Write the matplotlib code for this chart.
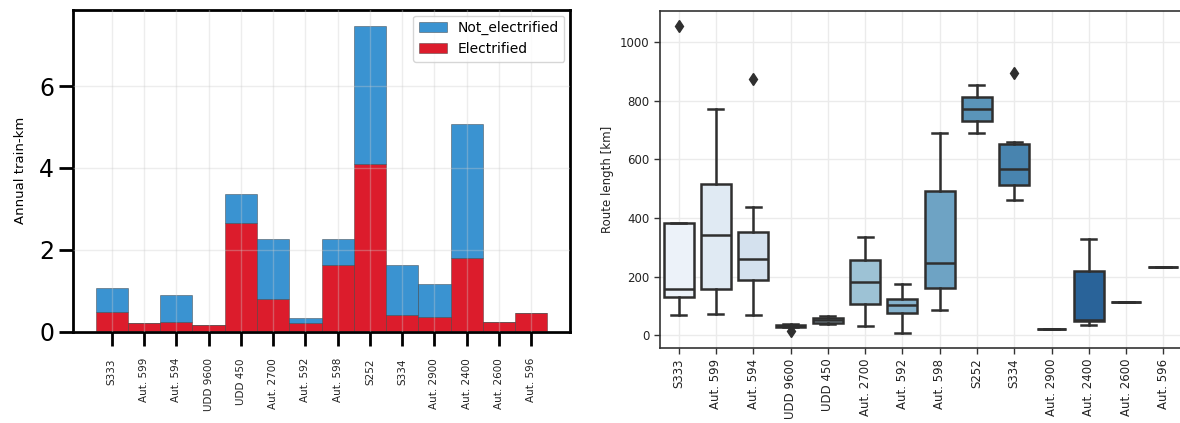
import matplotlib
matplotlib.use("Agg")
import matplotlib.pyplot as plt
import numpy as np
import seaborn as sns

routes = ['S333', 'Aut. 599', 'Aut. 594', 'UDD 9600', 'UDD 450', 'Aut. 2700', 'Aut. 592',
          'Aut. 598', 'S252', 'S334', 'Aut. 2900', 'Aut. 2400', 'Aut. 2600', 'Aut. 596']

# annual train-km per route (left chart)
electrified = [0.49, 0.22, 0.23, 0.16, 2.66, 0.80, 0.21, 1.62, 4.10, 0.41, 0.37, 1.79, 0.24, 0.46]
not_electrified = [0.57, 0.00, 0.67, 0.00, 0.71, 1.47, 0.12, 0.64, 3.38, 1.22, 0.79, 3.28, 0.00, 0.00]

# route length box statistics (right chart), km
whislo = [68, 72, 69, 28, 39, 32, 7, 85, 692, 461, 20, 34, 114, 231]
q1 = [129, 157, 188, 28, 43, 108, 76, 162, 731, 512, 20, 47, 114, 231]
med = [156, 342, 260, 32, 51, 182, 102, 247, 773, 567, 20, 53, 114, 231]
q3 = [384, 515, 351, 35, 59, 258, 123, 493, 812, 654, 20, 220, 114, 231]
whishi = [384, 773, 436, 38, 65, 334, 173, 692, 853, 658, 20, 327, 114, 231]
fliers = [[1055], [], [875], [14], [], [], [], [], [], [895], [], [], [], []]

fig = plt.figure(figsize=(11.8, 4.23), dpi=100)

# ---- left: stacked bars
ax1 = fig.add_axes([73 / 1180, 1 - 331.7 / 423, (570 - 73) / 1180, (331.7 - 10) / 423])
x = np.arange(len(routes))
ax1.bar(x, electrified, width=1.0, color='#dc1c2c', edgecolor=(0.2, 0.2, 0.2, 0.5),
        linewidth=0.6, label='Electrified')
ax1.bar(x, not_electrified, width=1.0, bottom=electrified, color='#3a93d1',
        edgecolor=(0.2, 0.2, 0.2, 0.5), linewidth=0.6, label='Not_electrified')
ax1.set_xlim(-1.2, 14.2)
ax1.set_ylim(0, 7.86)
ax1.set_yticks([0, 2, 4, 6])
ax1.set_xticks(x)
ax1.set_xticklabels(routes, rotation=90, fontsize=7.5, color='#222222')
ax1.tick_params(axis='y', labelsize=17, length=10, width=2)
ax1.tick_params(axis='x', length=10, width=2, pad=9)
for s in ax1.spines.values():
    s.set_linewidth(2)
ax1.grid(True, color='#cccccc', alpha=0.35, linewidth=1)
ax1.set_axisbelow(False)
ax1.set_ylabel('Annual train-km', fontsize=9.5, labelpad=9)
h, l = ax1.get_legend_handles_labels()
ax1.legend(h[::-1], l[::-1], loc='upper right', fontsize=10, borderaxespad=0.4)

# ---- right: box plots
ax2 = fig.add_axes([660 / 1180, 1 - 348.3 / 423, (1182 - 660) / 1180, (348.3 - 10.7) / 423])
colors = sns.color_palette("Blues", len(routes), desat=0.75)
stats = []
for i, r in enumerate(routes):
    stats.append(dict(label=r, whislo=whislo[i], q1=q1[i], med=med[i], q3=q3[i],
                      whishi=whishi[i], fliers=fliers[i]))
line_c = '#2f2f2f'
bp = ax2.bxp(stats, positions=x, widths=0.8, patch_artist=True,
             boxprops=dict(edgecolor=line_c, linewidth=1.8),
             medianprops=dict(color=line_c, linewidth=1.8),
             whiskerprops=dict(color=line_c, linewidth=1.8),
             capprops=dict(color=line_c, linewidth=1.8),
             flierprops=dict(marker='d', markerfacecolor=line_c, markeredgecolor=line_c,
                             markersize=6))
for patch, c in zip(bp['boxes'], colors):
    patch.set_facecolor(c)
ax2.set_xlim(-0.5, 13.5)
ax2.set_ylim(-45, 1108)
ax2.set_yticks([0, 200, 400, 600, 800, 1000])
ax2.set_xticks(x)
ax2.set_xticklabels(routes, rotation=90)
ax2.tick_params(labelsize=8.5, length=4, width=1, colors='#333333', labelcolor='#222222')
for s in ax2.spines.values():
    s.set_linewidth(1.2)
    s.set_color('#333333')
ax2.grid(True, color='#ebebeb', linewidth=1)
ax2.set_axisbelow(True)
ax2.set_ylabel('Route length [km]', fontsize=8.5, color='#222222')

fig.savefig('out.png', dpi=100)
